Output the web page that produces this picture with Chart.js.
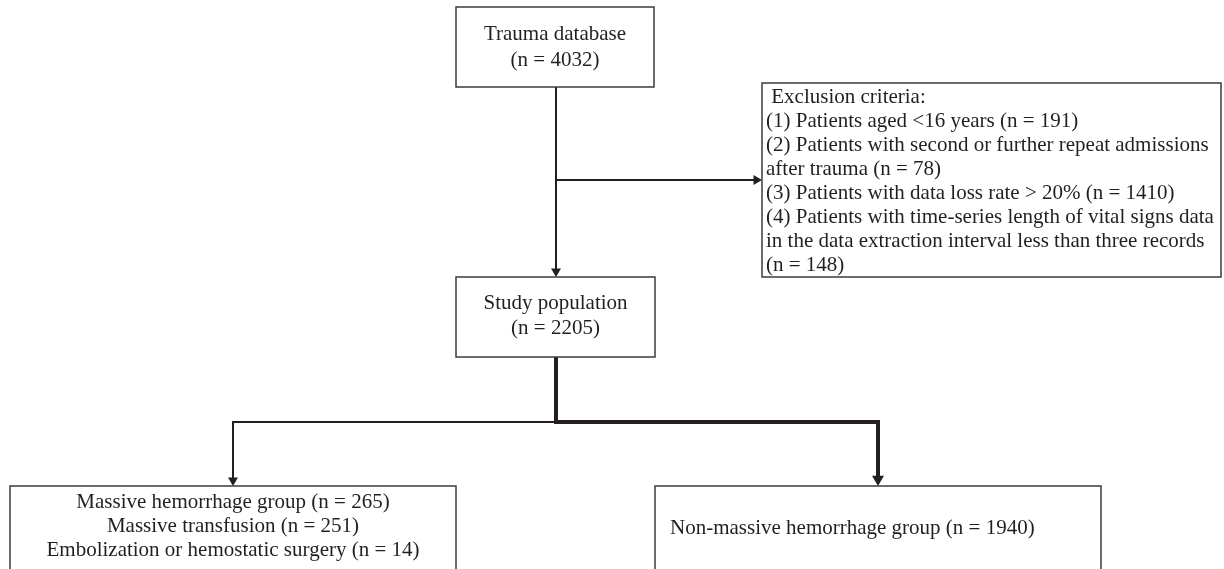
<!DOCTYPE html>
<html>
<head>
<meta charset="utf-8">
<title>Flowchart</title>
<script src="https://cdn.jsdelivr.net/npm/chart.js@4"></script>
<style>
  html, body { margin: 0; padding: 0; background: #fff; }
  #chart { display: block; }
</style>
</head>
<body>
<canvas id="chart" width="1224" height="569"></canvas>
<script>
// flow data
const stageLabels = ['Trauma database', 'Study population'];
const stageCounts = [4032, 2205];

const exclusionTitle = 'Exclusion criteria:';
const exclusionReasons = [
    'Patients aged <16 years',
    'Patients with second or further repeat admissions after trauma',
    'Patients with data loss rate > 20%',
    'Patients with time-series length of vital signs data in the data extraction interval less than three records'
];
const exclusionCounts = [191, 78, 1410, 148];

const groupLabels = ['Massive hemorrhage group', 'Non-massive hemorrhage group'];
const groupCounts = [265, 1940];
const subgroupLabels = ['Massive transfusion', 'Embolization or hemostatic surgery'];
const subgroupCounts = [251, 14];

// layout (in canvas units, used through the chart scales)
const layout = {
    trauma: {x0: 456, x1: 654, y0: 7, y1: 87},
    study: {x0: 456, x1: 655, y0: 277, y1: 357},
    exclusion: {x0: 762, x1: 1221, y0: 83, y1: 277},
    left: {x0: 10, x1: 456, y0: 486, y1: 575},
    right: {x0: 655, x1: 1101, y0: 486, y1: 575},
    trunkX: 556,
    exclY: 180,
    splitY: 422,
    leftX: 233,
    rightX: 878
};

const ink = '#231f20';
const font = '21px "Liberation Serif", "Times New Roman", serif';

function nText(label, n) {
    return label + ' (n = ' + n + ')';
}

function wrap(ctx, text, maxW) {
    const words = text.split(' ');
    const lines = [];
    let cur = '';
    words.forEach(function(w) {
        const test = cur ? cur + ' ' + w : w;
        if (ctx.measureText(test).width > maxW && cur) {
            lines.push(cur);
            cur = w;
        } else {
            cur = test;
        }
    });
    if (cur) lines.push(cur);
    return lines;
}

const flowPlugin = {
    id: 'flow',
    afterDraw: function(chart) {
        const ctx = chart.ctx;
        const xs = chart.scales.x;
        const ys = chart.scales.y;
        const X = function(v) { return xs.getPixelForValue(v); };
        const Y = function(v) { return ys.getPixelForValue(v); };

        function box(b) {
            ctx.save();
            ctx.strokeStyle = '#3b3b3b';
            ctx.lineWidth = 1.5;
            ctx.strokeRect(X(b.x0), Y(b.y0), X(b.x1) - X(b.x0), Y(b.y1) - Y(b.y0));
            ctx.restore();
        }

        function path(pts, w) {
            ctx.save();
            ctx.strokeStyle = ink;
            ctx.lineWidth = w;
            ctx.lineJoin = 'miter';
            ctx.beginPath();
            pts.forEach(function(p, i) {
                if (i === 0) ctx.moveTo(X(p[0]), Y(p[1]));
                else ctx.lineTo(X(p[0]), Y(p[1]));
            });
            ctx.stroke();
            ctx.restore();
        }

        function arrowDown(x, y, s) {
            ctx.save();
            ctx.fillStyle = ink;
            ctx.beginPath();
            ctx.moveTo(X(x), Y(y));
            ctx.lineTo(X(x) - s, Y(y) - s * 1.7);
            ctx.lineTo(X(x) + s, Y(y) - s * 1.7);
            ctx.closePath();
            ctx.fill();
            ctx.restore();
        }

        function arrowRight(x, y, s) {
            ctx.save();
            ctx.fillStyle = ink;
            ctx.beginPath();
            ctx.moveTo(X(x), Y(y));
            ctx.lineTo(X(x) - s * 1.7, Y(y) - s);
            ctx.lineTo(X(x) - s * 1.7, Y(y) + s);
            ctx.closePath();
            ctx.fill();
            ctx.restore();
        }

        function centerLines(lines, cx, cy, lh) {
            ctx.save();
            ctx.fillStyle = ink;
            ctx.font = font;
            ctx.textAlign = 'center';
            ctx.textBaseline = 'middle';
            const top = cy - (lines.length - 1) * lh / 2;
            lines.forEach(function(t, i) {
                ctx.fillText(t, X(cx), Y(top + i * lh));
            });
            ctx.restore();
        }

        // connectors
        const L = layout;
        path([[L.trunkX, L.trauma.y1], [L.trunkX, L.study.y0 - 6]], 2);
        arrowDown(L.trunkX, L.study.y0, 5);
        path([[L.trunkX, L.exclY], [L.exclusion.x0 - 6, L.exclY]], 2);
        arrowRight(L.exclusion.x0, L.exclY, 5);

        path([[L.trunkX, L.splitY], [L.leftX, L.splitY], [L.leftX, L.left.y0 - 6]], 2);
        arrowDown(L.leftX, L.left.y0, 5);
        path([[L.trunkX, L.study.y1], [L.trunkX, L.splitY], [L.rightX, L.splitY], [L.rightX, L.right.y0 - 8]], 4);
        arrowDown(L.rightX, L.right.y0, 6);

        // boxes
        box(L.trauma);
        box(L.study);
        box(L.exclusion);
        box(L.left);
        box(L.right);

        // stage text
        centerLines([stageLabels[0], '(n = ' + stageCounts[0] + ')'], (L.trauma.x0 + L.trauma.x1) / 2, 47.5, 26);
        centerLines([stageLabels[1], '(n = ' + stageCounts[1] + ')'], (L.study.x0 + L.study.x1) / 2, 315.5, 25);

        // exclusion text
        ctx.save();
        ctx.fillStyle = ink;
        ctx.font = font;
        ctx.textAlign = 'left';
        ctx.textBaseline = 'middle';
        const maxW = X(L.exclusion.x1) - X(L.exclusion.x0) - 6;
        let lines = [' ' + exclusionTitle];
        exclusionReasons.forEach(function(r, i) {
            lines = lines.concat(wrap(ctx, '(' + (i + 1) + ') ' + nText(r, exclusionCounts[i]), maxW));
        });
        lines.forEach(function(t, i) {
            ctx.fillText(t, X(L.exclusion.x0 + 4), Y(97 + i * 24));
        });
        ctx.restore();

        // group text
        const groupLines = [nText(groupLabels[0], groupCounts[0])];
        subgroupLabels.forEach(function(s, i) {
            groupLines.push(nText(s, subgroupCounts[i]));
        });
        centerLines(groupLines, L.leftX, 526, 24);

        ctx.save();
        ctx.fillStyle = ink;
        ctx.font = font;
        ctx.textAlign = 'left';
        ctx.textBaseline = 'middle';
        ctx.fillText(nText(groupLabels[1], groupCounts[1]), X(L.right.x0 + 15), Y(528));
        ctx.restore();
    }
};

const ctx = document.querySelector('#chart').getContext('2d');
const chart = new Chart(ctx, {
    type: 'scatter',
    data: {
        datasets: [{
            label: 'nodes',
            data: stageCounts.map(function(n, i) { return {x: layout.trunkX, y: i === 0 ? 47 : 317}; }),
            pointRadius: 0
        }]
    },
    options: {
        responsive: false,
        animation: false,
        devicePixelRatio: 1,
        layout: { padding: 0 },
        scales: {
            x: { type: 'linear', min: 0, max: 1224, display: false },
            y: { type: 'linear', min: 0, max: 569, reverse: true, display: false }
        },
        plugins: {
            legend: { display: false },
            tooltip: { enabled: false },
            title: { display: false }
        }
    },
    plugins: [flowPlugin]
});
</script>
</body>
</html>
